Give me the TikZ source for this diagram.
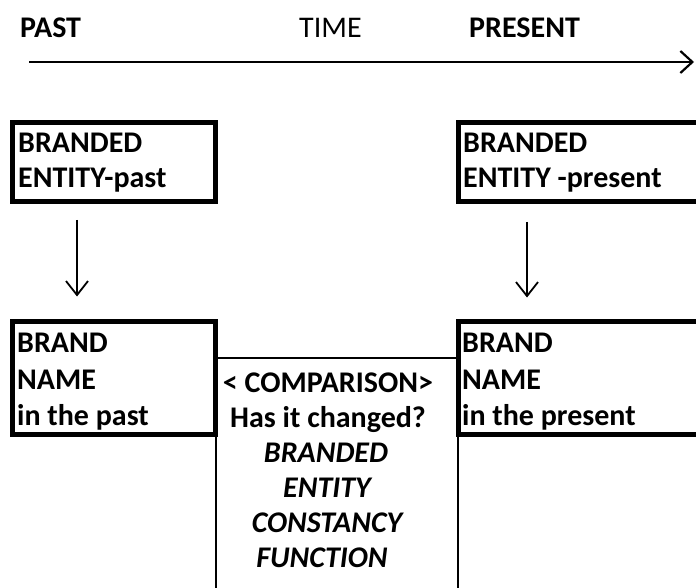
\documentclass[tikz,border=0pt]{standalone}
\usepackage{fontspec}
\setmainfont{Carlito}
\usetikzlibrary{arrows.meta}
\tikzset{
  frame/.style={draw=black, line width=5pt, inner sep=0pt},
  midframe/.style={draw=black, line width=2pt, inner sep=0pt},
  txt/.style={anchor=base west, inner sep=0pt, font=\fontsize{30}{35}\selectfont\bfseries},
  ctxt/.style={anchor=base, inner sep=0pt, font=\fontsize{30}{35}\selectfont\bfseries},
  itxt/.style={anchor=base, inner sep=0pt, font=\fontsize{30}{35}\selectfont\bfseries\itshape},
  hdr/.style={anchor=base west, inner sep=0pt, font=\fontsize{30}{35}\selectfont\bfseries},
  hdrreg/.style={anchor=base west, inner sep=0pt, font=\fontsize{30}{35}\selectfont},
  downarrow/.style={line width=1.8pt, -{Straight Barb[length=14pt,width=22pt,line width=1.8pt]}},
  timearrow/.style={line width=2.5pt, -{Straight Barb[length=12pt,width=22pt,line width=2.2pt]}}
}
\begin{document}
\begin{tikzpicture}[x=1pt,y=-1pt]
\clip (0,0) rectangle (696,588);
\fill[white] (0,0) rectangle (696,588);
% header
\node[hdr] (past) at (20,38) {PAST};
\node[hdrreg] (time) at (299,38) {TIME};
\node[hdr] (present) at (469,38) {PRESENT};
\coordinate (tl0) at (29,62);
\coordinate (tl1) at (694,62);
\draw[timearrow] (tl0) -- (tl1);
% middle comparison box (open at the bottom)
\node[midframe, minimum width=241.5pt, minimum height=245pt] (mid) at (336.75,480) {};
% boxes
\node[frame, minimum width=203pt, minimum height=79pt] (b1) at (114,162) {};
\node[frame, minimum width=262pt, minimum height=79pt] (b2) at (589.5,162) {};
\node[frame, minimum width=203pt, minimum height=113pt] (b3) at (114,377.5) {};
\node[frame, minimum width=262pt, minimum height=113pt] (b4) at (589.5,377.5) {};
% box texts
\node[txt] (t1a) at (18,153) {BRANDED};
\node[txt] (t1b) at (18,188) {ENTITY-past};
\node[txt] (t2a) at (463,153) {BRANDED};
\node[txt] (t2b) at (463,188) {ENTITY -present};
\node[txt] (t3a) at (17,352) {BRAND};
\node[txt] (t3b) at (17,389) {NAME};
\node[txt] (t3c) at (17,425) {in the past};
\node[txt] (t4a) at (462,352) {BRAND};
\node[txt] (t4b) at (462,389) {NAME};
\node[txt] (t4c) at (462,425) {in the present};
% middle texts
\node[ctxt] (m1) at (328,392) {< COMPARISON>};
\node[ctxt] (m2) at (328,427) {Has it changed?};
\node[itxt] (m3) at (326,462) {BRANDED};
\node[itxt] (m4) at (327,497) {ENTITY};
\node[itxt] (m5) at (327,532) {CONSTANCY};
\node[itxt] (m6) at (322,567) {FUNCTION};
% arrows
\coordinate (axl) at (77,0);
\coordinate (axr) at (527,0);
\draw[downarrow, shorten <=16pt, shorten >=22pt] (b1.south -| axl) -- (b3.north -| axl);
\draw[downarrow, shorten <=18pt, shorten >=21pt] (b2.south -| axr) -- (b4.north -| axr);
\end{tikzpicture}
\end{document}
